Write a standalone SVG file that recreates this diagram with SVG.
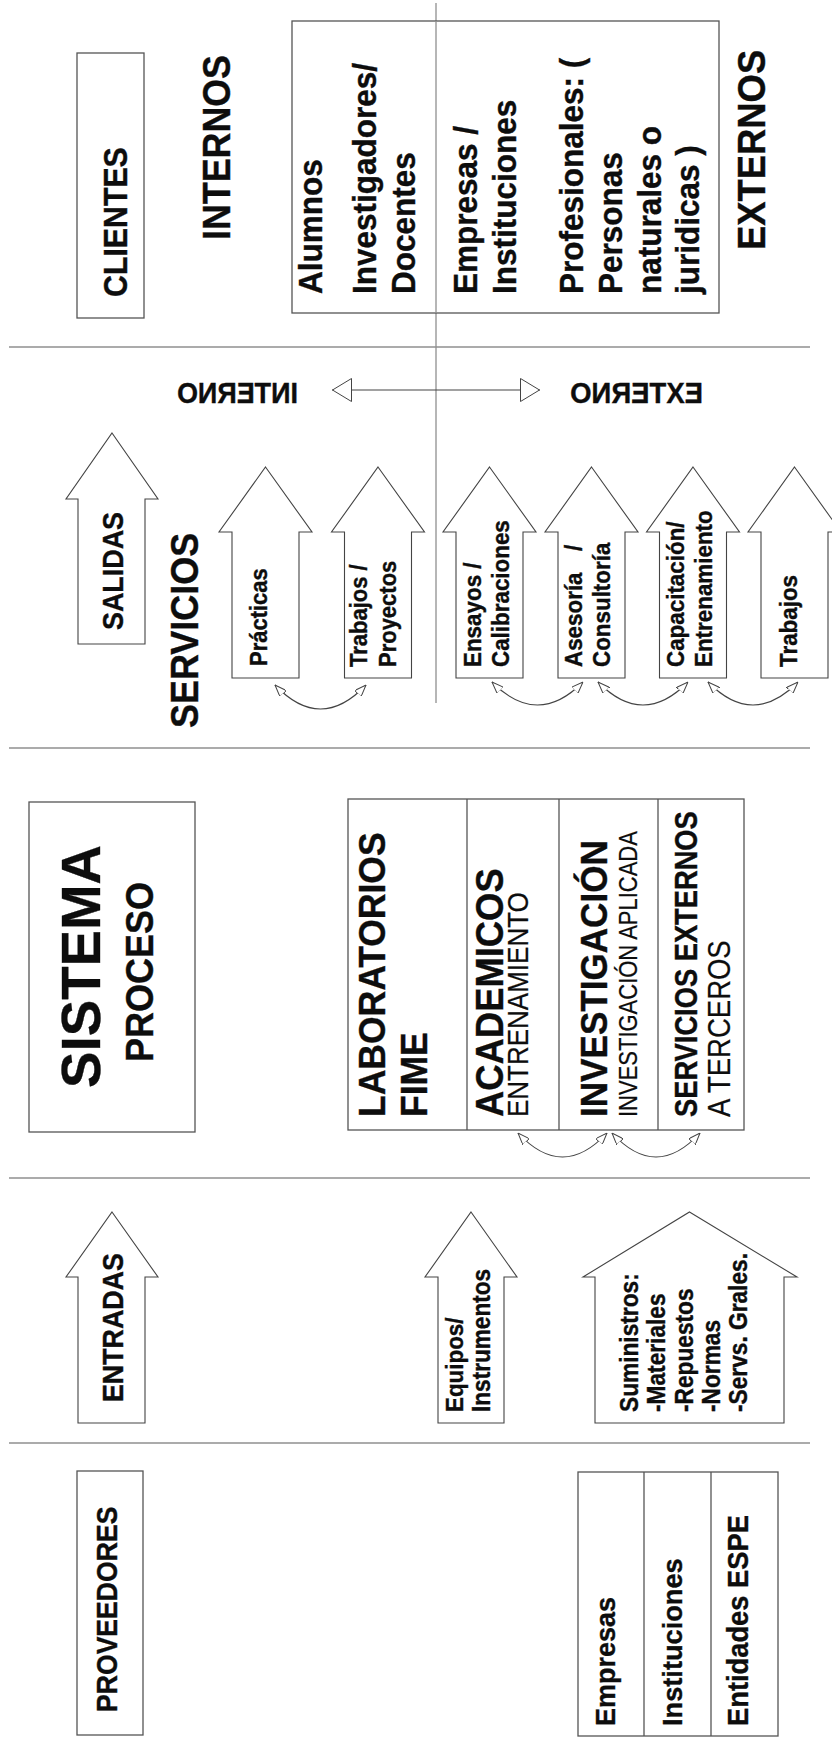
<svg xmlns="http://www.w3.org/2000/svg" width="832" height="1738" viewBox="0 0 832 1738">
  <style>
    .bg { fill: #ffffff; }
    .sep { stroke: #8f8f8f; stroke-width: 1.3; fill: none; }
    .box { fill: #ffffff; stroke: #555555; stroke-width: 1.3; }
    .cell { stroke: #555555; stroke-width: 1.3; fill: none; }
    .arrow { fill: #ffffff; stroke: #444444; stroke-width: 1.1; stroke-linejoin: miter; }
    .link { fill: none; stroke: #444444; stroke-width: 1.1; }
    .b { font-family: "Liberation Sans", Arial, Helvetica, sans-serif; font-weight: bold; fill: #0d0d0d; stroke: #0d0d0d; stroke-width: 0.35; }
    .r { font-family: "Liberation Sans", Arial, Helvetica, sans-serif; font-weight: normal; fill: #0d0d0d; stroke: #0d0d0d; stroke-width: 0.2; }
  </style>
  <defs>
    <marker id="tip" viewBox="0 0 12 9" refX="12" refY="4.5" markerWidth="12" markerHeight="9" markerUnits="userSpaceOnUse" orient="auto-start-reverse">
      <path d="M0,0 L12,4.5 L0,9 z" fill="#ffffff" stroke="#444444" stroke-width="1"/>
    </marker>
    <marker id="tri" viewBox="0 0 20 24" refX="20" refY="12" markerWidth="20" markerHeight="24" markerUnits="userSpaceOnUse" orient="auto-start-reverse">
      <path d="M0.5,0.5 L19.5,12 L0.5,23.5 z" fill="#ffffff" stroke="#444444" stroke-width="1"/>
    </marker>
  </defs>

  <rect class="bg" x="0" y="0" width="832" height="1738"/>

  <!-- section dividers -->
  <g id="dividers">
    <line class="sep" x1="9" y1="347" x2="810" y2="347"/>
    <line class="sep" x1="9" y1="748" x2="810" y2="748"/>
    <line class="sep" x1="9" y1="1178" x2="810" y2="1178"/>
    <line class="sep" x1="9" y1="1443" x2="810" y2="1443"/>
    <line class="sep" x1="436" y1="3" x2="436" y2="703"/>
  </g>

  <!-- CLIENTES -->
  <g id="clientes">
    <rect class="box" x="77" y="53" width="67" height="265"/>
    <text class="b" font-size="30.3" transform="matrix(0,-1,1.1,0,127,297)">CLIENTES</text>
  </g>
  <g id="internos-label">
    <text class="b" font-size="35.8" transform="matrix(0,-1,1.1,0,230,240)">INTERNOS</text>
  </g>
  <g id="externos-label">
    <text class="b" font-size="36.4" transform="matrix(0,-1,1.08,0,765,250)">EXTERNOS</text>
  </g>
  <g id="lista-clientes">
    <rect class="box" x="292" y="21" width="427" height="292"/>
    <line class="sep" x1="436" y1="21" x2="436" y2="313"/>
    <text class="b" font-size="31.5" transform="matrix(0,-1,1.05,0,322,294)">Alumnos</text>
    <text class="b" font-size="31.5" transform="matrix(0,-1,1.08,0,376,294)">Investigadores/</text>
    <text class="b" font-size="31.5" transform="matrix(0,-1,1.08,0,415,294)">Docentes</text>
    <text class="b" font-size="31.5" transform="matrix(0,-1,1.08,0,477,294)">Empresas /</text>
    <text class="b" font-size="31.5" transform="matrix(0,-1,1.08,0,516,294)">Instituciones</text>
    <text class="b" font-size="31.5" transform="matrix(0,-1,1.08,0,583,294)">Profesionales: (</text>
    <text class="b" font-size="31.5" transform="matrix(0,-1,1.08,0,622,294)">Personas</text>
    <text class="b" font-size="31.5" transform="matrix(0,-1,1.08,0,661,294)">naturales o</text>
    <text class="b" font-size="31.5" transform="matrix(0,-1,1.08,0,699,294)">juridicas )</text>
  </g>

  <!-- internal / external service direction -->
  <g id="interno-externo">
    <text class="b" font-size="26.9" transform="matrix(-1,0,0,1.1,298,403)">INTERNO</text>
    <text class="b" font-size="27.5" transform="matrix(-1,0,0,1.1,703,403)">EXTERNO</text>
  </g>

  <!-- SALIDAS / SERVICIOS -->
  <g id="salidas">
    <polygon class="arrow" points="112,433 158,499 145,499 145,644 78,644 78,499 66,499"/>
    <text class="b" font-size="26.9" transform="matrix(0,-1,1.1,0,123,630)">SALIDAS</text>
  </g>
  <g id="servicios-label">
    <text class="b" font-size="36" transform="matrix(0,-1,1.08,0,198,728)">SERVICIOS</text>
  </g>
  <g id="svc-practicas">
    <polygon class="arrow" points="265.5,467 312,532 299,532 299,678 232,678 232,532 219,532"/>
    <text class="b" font-size="22" transform="matrix(0,-1,1.1,0,267,666)">Prácticas</text>
  </g>
  <g id="svc-trabajos-proyectos">
    <polygon class="arrow" points="378,467 424.5,532 411.5,532 411.5,678 344.5,678 344.5,532 331.5,532"/>
    <text class="b" font-size="22" transform="matrix(0,-1,1.1,0,367,667)">Trabajos /</text>
    <text class="b" font-size="22" transform="matrix(0,-1,1.1,0,396,667)">Proyectos</text>
  </g>
  <g id="svc-ensayos">
    <polygon class="arrow" points="489.5,467 536,532 523,532 523,678 456,678 456,532 443,532"/>
    <text class="b" font-size="22.4" transform="matrix(0,-1,1.1,0,481,667)">Ensayos /</text>
    <text class="b" font-size="22.4" transform="matrix(0,-1,1.1,0,509,667)">Calibraciones</text>
  </g>
  <g id="svc-asesoria">
    <polygon class="arrow" points="591.5,467 638,532 625,532 625,678 558,678 558,532 545,532"/>
    <text class="b" font-size="22.4" transform="matrix(0,-1,1.1,0,582,667)">Asesoría<tspan x="116">/</tspan></text>
    <text class="b" font-size="22.4" transform="matrix(0,-1,1.1,0,610,667)">Consultoría</text>
  </g>
  <g id="svc-capacitacion">
    <polygon class="arrow" points="693,467 739.5,532 726.5,532 726.5,678 659.5,678 659.5,532 646.5,532"/>
    <text class="b" font-size="22.4" transform="matrix(0,-1,1.1,0,684,667)">Capacitación/</text>
    <text class="b" font-size="22.4" transform="matrix(0,-1,1.1,0,712,667)">Entrenamiento</text>
  </g>
  <g id="svc-trabajos">
    <polygon class="arrow" points="794.5,467 841,532 828,532 828,678 761,678 761,532 748,532"/>
    <text class="b" font-size="22.4" transform="matrix(0,-1,1.1,0,797,667)">Trabajos</text>
  </g>

  <!-- SISTEMA / PROCESO -->
  <g id="sistema">
    <rect class="box" x="29" y="802" width="166" height="330"/>
    <text class="b" font-size="54.7" transform="matrix(0,-1,1.02,0,100,1088)">SISTEMA</text>
    <text class="b" font-size="36" transform="matrix(0,-1,1.08,0,153,1062)">PROCESO</text>
  </g>
  <g id="laboratorios">
    <rect class="box" x="348" y="799" width="396" height="331"/>
    <line class="cell" x1="467" y1="799" x2="467" y2="1130"/>
    <line class="cell" x1="559" y1="799" x2="559" y2="1130"/>
    <line class="cell" x1="658" y1="799" x2="658" y2="1130"/>
    <text class="b" font-size="35.5" transform="matrix(0,-1,1.06,0,385,1117)">LABORATORIOS</text>
    <text class="b" font-size="35.5" transform="matrix(0,-1,1.06,0,427,1117)">FIME</text>
  </g>
  <g id="academicos">
    <text class="b" font-size="36.4" transform="matrix(0,-1,1.06,0,503,1117)">ACADEMICOS</text>
    <text class="r" font-size="26" transform="matrix(0,-1,1.12,0,528,1117)">ENTRENAMIENTO</text>
  </g>
  <g id="investigacion">
    <text class="b" font-size="35.1" transform="matrix(0,-1,1.06,0,607,1117)">INVESTIGACIÓN</text>
    <text class="r" font-size="22" transform="matrix(0,-1,1.18,0,637,1117)">INVESTIGACIÓN APLICADA</text>
  </g>
  <g id="servicios-externos">
    <text class="b" font-size="27.3" transform="matrix(0,-1,1.12,0,697,1117)">SERVICIOS EXTERNOS</text>
    <text class="r" font-size="27.5" transform="matrix(0,-1,1.15,0,730,1117)">A TERCEROS</text>
  </g>

  <!-- ENTRADAS -->
  <g id="entradas">
    <polygon class="arrow" points="112,1212 158,1277 145,1277 145,1423 78,1423 78,1277 66,1277"/>
    <text class="b" font-size="26.8" transform="matrix(0,-1,1.1,0,123,1402)">ENTRADAS</text>
  </g>
  <g id="equipos">
    <polygon class="arrow" points="471,1212 517,1277 504,1277 504,1423 438,1423 438,1277 425,1277"/>
    <text class="b" font-size="22.4" transform="matrix(0,-1,1.1,0,463,1412)">Equipos/</text>
    <text class="b" font-size="22.6" transform="matrix(0,-1,1.1,0,490,1412)">Instrumentos</text>
  </g>
  <g id="suministros">
    <polygon class="arrow" points="689.5,1212 797,1277 784,1277 784,1423 595,1423 595,1277 583,1277"/>
    <text class="b" font-size="22.7" transform="matrix(0,-1,1.1,0,638,1412)">Suministros:</text>
    <text class="b" font-size="22.7" transform="matrix(0,-1,1.1,0,665,1412)">-Materiales</text>
    <text class="b" font-size="22.7" transform="matrix(0,-1,1.1,0,693,1412)">-Repuestos</text>
    <text class="b" font-size="22.7" transform="matrix(0,-1,1.1,0,720,1412)">-Normas</text>
    <text class="b" font-size="22.7" transform="matrix(0,-1,1.1,0,747,1412)">-Servs. Grales.</text>
  </g>

  <!-- PROVEEDORES -->
  <g id="proveedores">
    <rect class="box" x="77" y="1471" width="66" height="264"/>
    <text class="b" font-size="26.6" transform="matrix(0,-1,1.12,0,117,1712)">PROVEEDORES</text>
  </g>
  <g id="lista-proveedores">
    <rect class="box" x="578" y="1472" width="200" height="264"/>
    <line class="cell" x1="644" y1="1472" x2="644" y2="1736"/>
    <line class="cell" x1="711" y1="1472" x2="711" y2="1736"/>
    <text class="b" font-size="27" transform="matrix(0,-1,1.05,0,615,1726)">Empresas</text>
    <text class="b" font-size="27.2" transform="matrix(0,-1,1.05,0,682,1726)">Instituciones</text>
    <text class="b" font-size="27.3" transform="matrix(0,-1,1.05,0,748,1726)">Entidades ESPE</text>
  </g>

  <!-- connectors -->
  <g id="connectors">
    <line class="link" x1="332" y1="390" x2="540" y2="390" marker-start="url(#tri)" marker-end="url(#tri)"/>
    <path class="link" d="M275,685 Q320.5,733 366,685" marker-start="url(#tip)" marker-end="url(#tip)"/>
    <path class="link" d="M492,682 Q537.5,728 583,682" marker-start="url(#tip)" marker-end="url(#tip)"/>
    <path class="link" d="M598,682 Q643,728 688,682" marker-start="url(#tip)" marker-end="url(#tip)"/>
    <path class="link" d="M708,682 Q753,728 798,682" marker-start="url(#tip)" marker-end="url(#tip)"/>
    <path class="link" d="M518,1133 Q562.5,1181 607,1133" marker-start="url(#tip)" marker-end="url(#tip)"/>
    <path class="link" d="M612,1133 Q656,1181 700,1133" marker-start="url(#tip)" marker-end="url(#tip)"/>
  </g>
</svg>
